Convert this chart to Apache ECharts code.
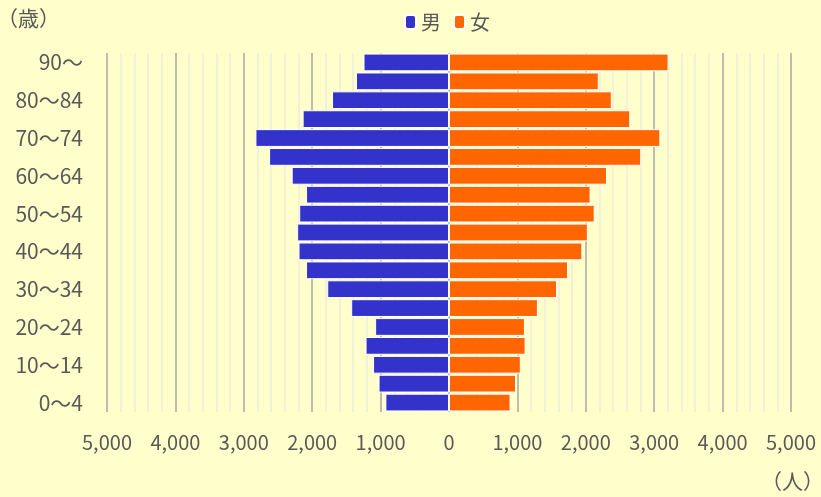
<!DOCTYPE html>
<html><head><meta charset="utf-8">
<script src="https://cdn.jsdelivr.net/npm/echarts@6/dist/echarts.min.js"></script>
<style>html,body{margin:0;padding:0;background:#FFFFCC;}#c{width:821px;height:497px;}</style>
</head><body><div id="c"></div>
<script>
const categories = ['0〜4','5〜9','10〜14','15〜19','20〜24','25〜29','30〜34','35〜39','40〜44','45〜49','50〜54','55〜59','60〜64','65〜69','70〜74','75〜79','80〜84','85〜89','90〜'];
const maleValues = [930,1030,1110,1220,1080,1430,1780,2090,2200,2220,2190,2090,2300,2630,2830,2140,1710,1360,1250];
const femaleValues = [900,980,1050,1120,1110,1300,1580,1740,1950,2030,2130,2070,2310,2810,3090,2650,2380,2190,3210];
const xTicks = {min:-5000, max:5000, interval:1000};

const font = '"Noto Sans CJK JP","Noto Sans",sans-serif';
const txt = '#595959';
const chart = echarts.init(document.getElementById('c'));
chart.setOption({
  backgroundColor:'#FFFFCC',
  animation:false,
  textStyle:{fontFamily:font,color:txt},
  legend:{
    top:7,left:399,itemWidth:11,itemHeight:14,itemGap:12,
    textStyle:{fontSize:20,color:txt,fontFamily:font},
    data:['男','女']
  },
  grid:{left:107,right:30,top:53,bottom:85,containLabel:false},
  xAxis:{
    type:'value',min:xTicks.min,max:xTicks.max,interval:xTicks.interval,
    axisLine:{show:false},axisTick:{show:false},
    axisLabel:{fontSize:20,color:txt,margin:20,fontFamily:font,
      formatter:v=>Math.abs(v).toLocaleString('en-US')},
    splitLine:{show:true,lineStyle:{color:'#a6a6a6',width:1.5}},
    minorTick:{show:false,splitNumber:5},
    minorSplitLine:{show:true,lineStyle:{color:'#ededde',width:1.5}}
  },
  yAxis:{
    type:'category',data:categories,
    axisLine:{show:false},
    axisTick:{show:false},
    axisLabel:{interval:1,fontSize:21,color:txt,margin:24,fontFamily:font}
  },
  series:[
    {name:'男',type:'bar',stack:'p',data:maleValues.map(v=>-v),barCategoryGap:'6%',
     itemStyle:{color:'#3333CC',borderColor:'#ffffff',borderWidth:1}},
    {name:'女',type:'bar',stack:'p',data:femaleValues,barCategoryGap:'6%',
     itemStyle:{color:'#FF6600',borderColor:'#ffffff',borderWidth:1}}
  ],
  graphic:[
    {type:'text',left:-3,top:8,style:{text:'（歳）',font:'21px '+font,fill:txt}},
    {type:'text',right:-3,top:471,style:{text:'（人）',font:'21px '+font,fill:txt}}
  ]
});
</script></body></html>
